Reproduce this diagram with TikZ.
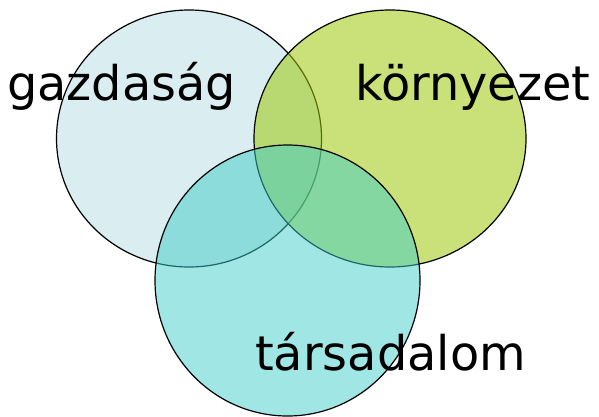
\documentclass[tikz,border=0pt]{standalone}
\usepackage{fontspec}
\setmainfont{DejaVu Sans}

\definecolor{gazColor}{RGB}{181,219,225}
\definecolor{kornyColor}{RGB}{157,200,10}
\definecolor{tarsColor}{RGB}{63,205,201}

\begin{document}
\begin{tikzpicture}[x=1pt, y=-1pt, font=\fontsize{47.8}{52}\selectfont]
\tikzstyle{setStyle}=[draw=black, line width=1.2pt]
\tikzstyle{labelStyle}=[inner sep=0pt, anchor=base west, text=black]
\useasboundingbox (0,0) rectangle (599,416);
% the three sets
\path[setStyle, fill=gazColor, fill opacity=0.5] (189,138.5) ellipse [x radius=132.5, y radius=128.5];
\path[setStyle, fill=kornyColor, fill opacity=0.55] (390,138.5) ellipse [x radius=136, y radius=128.5];
\path[setStyle, fill=tarsColor, fill opacity=0.5] (287.5,280.5) ellipse [x radius=132.5, y radius=135.5];
% labels
\node[labelStyle] (gazdasag) at (7,100) {gazdaság};
\node[labelStyle] (kornyezet) at (355,100) {környezet};
\node[labelStyle] (tarsadalom) at (255,370) {társadalom};
\end{tikzpicture}
\end{document}
